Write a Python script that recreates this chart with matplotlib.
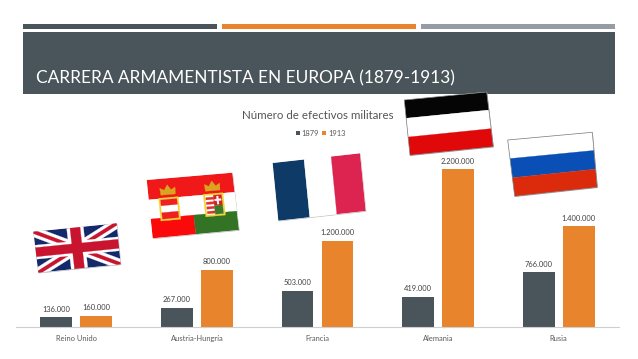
import numpy as np
import matplotlib
matplotlib.use("Agg")
import matplotlib.pyplot as plt
from matplotlib.patches import Polygon, Rectangle

categories = ["Reino Unido", "Austria-Hungría", "Francia", "Alemania", "Rusia"]
v1879 = [136000, 267000, 503000, 419000, 766000]
v1913 = [160000, 800000, 1200000, 2200000, 1400000]
series_names = ["1879", "1913"]
title = "CARRERA ARMAMENTISTA EN EUROPA (1879-1913)"
chart_title = "Número de efectivos militares"

DARK = "#4a555b"
ORANGE = "#e8842c"
GREY = "#959ca3"
TXT = "#404040"
W, H = 638, 359
plt.rcParams["font.family"] = ["Lato", "DejaVu Sans"]


def fmt(v):
    return f"{v:,}".replace(",", ".")


fig = plt.figure(figsize=(W / 100, H / 100), dpi=100, facecolor="white")

# bar chart
ax = fig.add_axes([16 / W, 1 - 327 / H, 603 / W, 179.5 / H])
x = np.arange(len(categories))
bw = 0.265
off = 0.166
ax.bar(x - off, v1879, bw, color=DARK)
ax.bar(x + off, v1913, bw, color=ORANGE)
ax.set_xlim(-0.5, 4.5)
ax.set_ylim(0, 2500000)
ax.patch.set_alpha(0)
for s in ["top", "left", "right"]:
    ax.spines[s].set_visible(False)
ax.spines["bottom"].set_color("#cfcfcf")
ax.spines["bottom"].set_linewidth(0.8)
ax.set_yticks([])
ax.set_xticks(x, categories)
ax.tick_params(axis="x", length=0, pad=5.5, labelsize=5.4, labelcolor="#595959")
for i in range(len(categories)):
    ax.annotate(fmt(v1879[i]), (x[i] - off, v1879[i]), xytext=(0, 3.2), textcoords="offset points",
                ha="center", va="bottom", fontsize=5.4, color=TXT)
    ax.annotate(fmt(v1913[i]), (x[i] + off, v1913[i]), xytext=(0, 3.2), textcoords="offset points",
                ha="center", va="bottom", fontsize=5.4, color=TXT)

# overlay in pixel space: slide header and flags
ov = fig.add_axes([0, 0, 1, 1], zorder=5)
ov.set_xlim(0, W)
ov.set_ylim(H, 0)
ov.axis("off")
ov.patch.set_alpha(0)

for x0, x1, c in [(23, 217, DARK), (222, 416, ORANGE), (421, 615, GREY)]:
    ov.add_patch(Rectangle((x0, 24), x1 - x0, 5.3, color=c, lw=0))
ov.add_patch(Rectangle((23, 32), 592, 62, color=DARK, lw=0))
ov.text(36, 83.5, title, color="white", fontsize=12.4, va="baseline", ha="left")

ov.text(317.5, 115.5, chart_title, color="#555555", fontsize=8.3, ha="center", va="center")
ov.add_patch(Rectangle((296, 131), 3.5, 3.5, color=DARK, lw=0))
ov.text(301, 133, series_names[0], color="#595959", fontsize=5.4, va="center")
ov.add_patch(Rectangle((322, 131), 3.5, 3.5, color=ORANGE, lw=0))
ov.text(328, 133, series_names[1], color="#595959", fontsize=5.4, va="center")


class Flag:
    def __init__(self, tl, tr, br, bl):
        self.c = [np.array(p, float) for p in (tl, tr, br, bl)]
        self.clip = None

    def pt(self, u, v):
        tl, tr, br, bl = self.c
        return (1 - v) * ((1 - u) * tl + u * tr) + v * ((1 - u) * bl + u * br)

    def poly(self, pts, color, z=6):
        p = Polygon([self.pt(*q) for q in pts], closed=True, fc=color, ec=color, lw=0.2, zorder=z)
        ov.add_patch(p)
        if self.clip is not None:
            p.set_clip_path(self.clip)
        return p

    def rect(self, u0, v0, u1, v1, color, z=6):
        return self.poly([(u0, v0), (u1, v0), (u1, v1), (u0, v1)], color, z)

    def frame(self):
        shadow = Polygon([p + np.array([0.6, 0.7]) for p in self.c], closed=True, fc="#b5b5b5", ec="none", zorder=5.5)
        ov.add_patch(shadow)
        self.clip = self.rect(0, 0, 1, 1, "white", 5.6)

    def outline(self):
        ov.add_patch(Polygon(self.c, closed=True, fc="none", ec="#777777", lw=0.5, zorder=7))

    def band(self, a, b, w, color, z=6):
        a, b = np.array(a), np.array(b)
        d = b - a
        n = np.array([-d[1] * 0.5, d[0]]) / np.hypot(d[0] * 1.0, d[1] * 0.5)
        n = n * w
        self.poly([a + n, b + n, b - n, a - n], color, z)


# United Kingdom
f = Flag((33.3, 231.7), (116.7, 223.3), (120.7, 264.3), (38.3, 272.7))
f.frame()
f.rect(0, 0, 1, 1, "#14296b")
for a, b in [((0, 0), (1, 1)), ((1, 0), (0, 1))]:
    f.band(a, b, 0.1, "white", 6.1)
    f.band(a, b, 0.035, "#c8142e", 6.2)
f.rect(0.40, 0, 0.60, 1, "white", 6.3)
f.rect(0, 0.33, 1, 0.67, "white", 6.3)
f.rect(0.44, 0, 0.56, 1, "#c8142e", 6.4)
f.rect(0, 0.39, 1, 0.61, "#c8142e", 6.4)

# Austria-Hungary
f = Flag((146.7, 180), (232.3, 172.7), (239, 230), (152.7, 238.3))
f.frame()
f.rect(0, 0, 1, 0.34, "#f01818")
f.rect(0, 0.34, 1, 0.67, "white")
f.rect(0, 0.67, 0.5, 1, "#fa0a0a")
f.rect(0.5, 0.67, 1, 1, "#327326")
for cu, kind in [(0.23, "a"), (0.75, "h")]:
    f.rect(cu - 0.115, 0.33, cu + 0.115, 0.72, "#f2d52a", 6.5)
    f.rect(cu - 0.095, 0.36, cu + 0.095, 0.69, "white", 6.6)
    f.poly([(cu - 0.085, 0.28), (cu - 0.09, 0.16), (cu - 0.04, 0.2), (cu, 0.11), (cu + 0.04, 0.2),
            (cu + 0.09, 0.16), (cu + 0.085, 0.28)], "#d9a520", 6.6)
    if kind == "a":
        f.rect(cu - 0.095, 0.36, cu + 0.095, 0.46, "#ef2020", 6.7)
        f.rect(cu - 0.095, 0.58, cu + 0.095, 0.69, "#ef2020", 6.7)
    else:
        for v in (0.39, 0.47, 0.55, 0.63):
            f.rect(cu - 0.09, v, cu, v + 0.04, "#e03030", 6.7)
        f.rect(cu, 0.36, cu + 0.095, 0.54, "#d82020", 6.7)
        f.rect(cu + 0.035, 0.38, cu + 0.055, 0.52, "white", 6.8)
        f.rect(cu + 0.01, 0.43, cu + 0.085, 0.46, "white", 6.8)
        f.rect(cu, 0.54, cu + 0.095, 0.69, "#3c7a2a", 6.7)

# France
f = Flag((272.6, 163), (360, 153.3), (365.7, 211), (278.3, 220.7))
f.frame()
f.rect(0, 0, 0.36, 1, "#0d3a66")
f.rect(0.36, 0, 0.67, 1, "white")
f.rect(0.67, 0, 1, 1, "#dd2350")

# Germany
f = Flag((404.3, 100), (486.7, 92), (493.3, 146.7), (410, 155.3))
f.frame()
f.rect(0, 0, 1, 0.33, "#050505")
f.rect(0, 0.33, 1, 0.67, "white")
f.rect(0, 0.67, 1, 1, "#e00808")
f.outline()

# Russia
f = Flag((507.7, 140), (592.3, 132.3), (597.3, 187.3), (514.7, 196.3))
f.frame()
f.rect(0, 0, 1, 0.33, "white")
f.rect(0, 0.33, 1, 0.67, "#0a4fb5")
f.rect(0, 0.67, 1, 1, "#dc2a0c")
f.outline()

fig.savefig("out.png", dpi=100, facecolor="white")
